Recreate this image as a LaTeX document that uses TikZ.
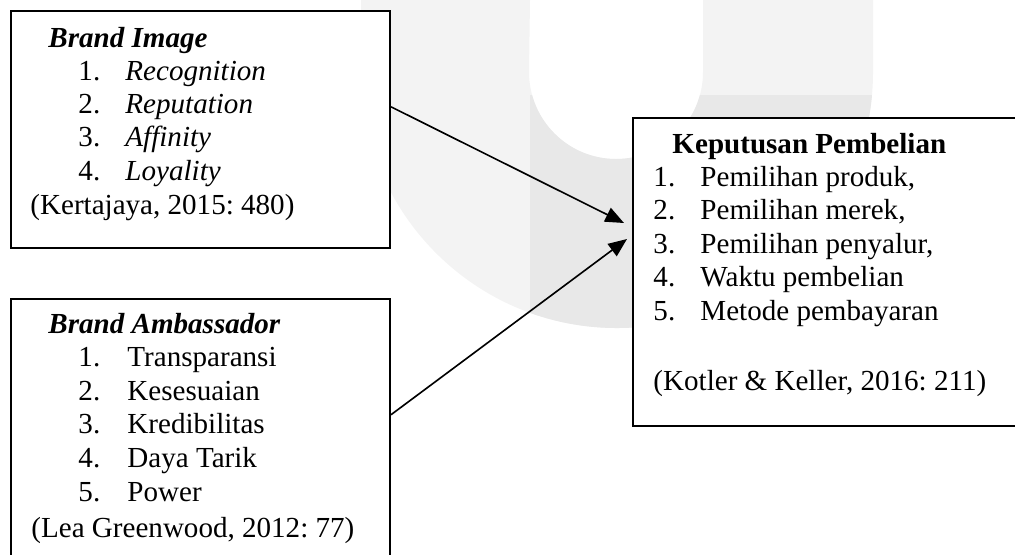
\documentclass[tikz,border=0pt]{standalone}
\usepackage{fontspec}
\setmainfont{Liberation Serif}
\usetikzlibrary{positioning,calc,arrows.meta}
\frenchspacing

\newlength\px
\setlength\px{0.43pt}
\definecolor{wmlight}{HTML}{F3F3F3}
\definecolor{wmdark}{HTML}{E8E8E8}

\tikzset{
  box/.style={draw, line width=0.85pt, fill=white, inner sep=0pt, anchor=north west},
  txt/.style={anchor=base west, inner sep=0pt, font=\fontsize{12.5}{14}\selectfont},
  link/.style={line width=0.7pt, -{Triangle[length=8pt,width=6.5pt]}}
}

\begin{document}
\begin{tikzpicture}[x=0.43pt, y=-0.43pt]
    % Page
    \clip (0,0) rectangle (1015,554);

    % Watermark
    \fill[wmlight] (361,0) -- (361,72) arc[start angle=180, end angle=0, radius=256] -- (873,0)
        -- (703,0) -- (703,72) arc[start angle=0, end angle=180, radius=87] -- (530,0) -- cycle;
    \begin{scope}
        \clip (530,95) rectangle (1015,554);
        \fill[wmdark] (361,0) -- (361,72) arc[start angle=180, end angle=0, radius=256] -- (873,0)
            -- (703,0) -- (703,72) arc[start angle=0, end angle=180, radius=87] -- (530,0) -- cycle;
    \end{scope}

    % Boxes
    \node[box, minimum width={379*\px}, minimum height={237*\px}] (bi) at (10,10) {};
    \node[box, minimum width={379*\px}, minimum height={280*\px}] (ba) at (10,298) {};
    \node[box, minimum width={400*\px}, minimum height={308*\px}] (kp) at (632,117) {};

    % Brand Image
    \node[txt] (bi-h) at (48,47) {\textbf{\textit{Brand Image}}};
    \foreach \t [count=\i] in {Recognition,Reputation,Affinity,Loyality}
        \node[txt] (bi-\i) at (78,{47+33.3*\i}) {\makebox[47\px][l]{\i.}\textit{\t}};
    \node[txt] (bi-c) at (30,214) {(Kertajaya, 2015: 480)};

    % Brand Ambassador
    \node[txt] (ba-h) at (48,333) {\textbf{\textit{Brand Ambassador}}};
    \foreach \t [count=\i] in {Transparansi,Kesesuaian,Kredibilitas,Daya Tarik,Power}
        \node[txt] (ba-\i) at (78,{333+33.6*\i}) {\makebox[49\px][l]{\i.}\t};
    \node[txt] (ba-c) at (31,537) {(Lea Greenwood, 2012: 77)};

    % Keputusan Pembelian
    \node[txt] (kp-h) at (672,153) {\textbf{Keputusan Pembelian}};
    \foreach \t [count=\i] in {Pemilihan produk{,},Pemilihan merek{,},Pemilihan penyalur{,},Waktu pembelian,Metode pembayaran}
        \node[txt] (kp-\i) at (653,{153+33.4*\i}) {\makebox[47\px][l]{\i.}\t};
    \node[txt] (kp-c) at (653,390) {(Kotler \& Keller, 2016: 211)};

    % Arrows
    \coordinate (t1) at (624,223);
    \coordinate (t2) at (627,239);
    \draw[link] ($(bi.north east)!0.405!(bi.south east)$) -- (t1);
    \draw[link] ($(ba.north east)!0.414!(ba.south east)$) -- (t2);
\end{tikzpicture}
\end{document}
